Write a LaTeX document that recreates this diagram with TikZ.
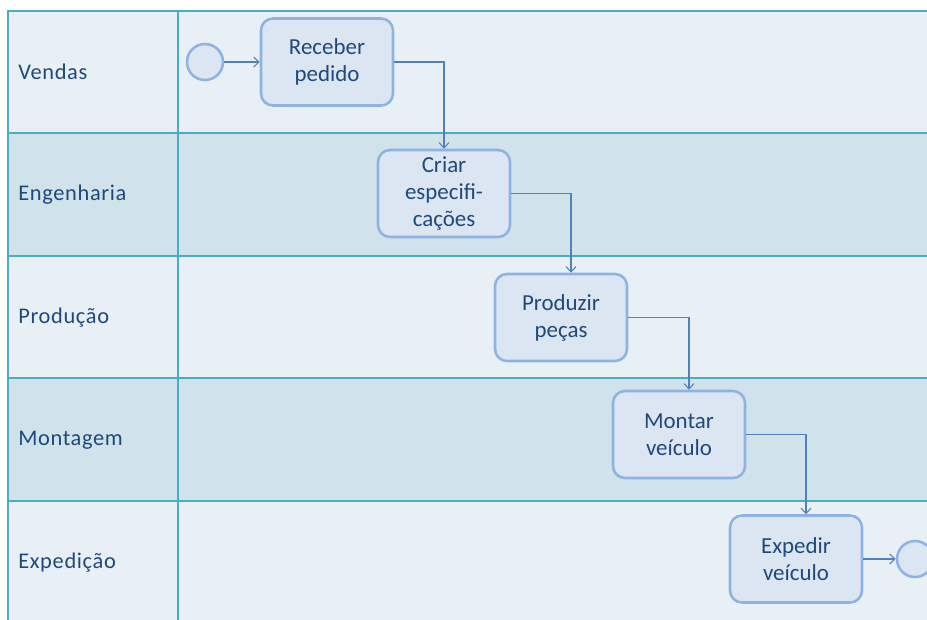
\documentclass[tikz,border=0pt]{standalone}
\usepackage{fontspec}
\setmainfont{Carlito}
\newfontfamily\lanefont[LetterSpace=3]{Carlito}
\usetikzlibrary{arrows.meta}
\definecolor{lanelight}{HTML}{E8F0F5}
\definecolor{lanedark}{HTML}{D1E3EA}
\definecolor{laneline}{HTML}{4BACC6}
\definecolor{boxfill}{HTML}{DCE6F2}
\definecolor{boxline}{HTML}{8DB3E2}
\definecolor{flowline}{HTML}{4F81BD}
\definecolor{txt}{HTML}{1F497D}
\tikzset{
  activity/.style={draw=boxline, fill=boxfill, line width=1.9pt, rounded corners=9pt,
    minimum width=132*0.75pt, minimum height=87*0.75pt, inner sep=0pt,
    align=center, text=txt, font=\fontsize{17.2}{20.3}\selectfont},
  terminal/.style={circle, draw=boxline, fill=boxfill, line width=1.9pt,
    minimum size=36*0.75pt, inner sep=0pt},
  lanelabel/.style={anchor=west, text=txt, inner sep=0pt,
    font=\lanefont\fontsize{16.8}{20}\selectfont},
  flow/.style={draw=flowline, line width=0.8pt,
    -{Straight Barb[length=4pt,width=7.5pt,line width=0.8pt]}},
}
\begin{document}
\begin{tikzpicture}[x=0.75pt,y=-0.75pt]
\useasboundingbox (0,0) rectangle (927,619);
\clip (0,0) rectangle (927,619);
% swimlane backgrounds
\fill[lanelight] (8,11) rectangle (940,133);
\fill[lanedark]  (8,133) rectangle (940,256);
\fill[lanelight] (8,256) rectangle (940,378);
\fill[lanedark]  (8,378) rectangle (940,501);
\fill[lanelight] (8,501) rectangle (940,630);
% lane borders
\begin{scope}[draw=laneline, line width=1.5pt]
\draw (8,630) -- (8,11) -- (940,11);
\draw (8,133) -- (940,133);
\draw (8,256) -- (940,256);
\draw (8,378) -- (940,378);
\draw (8,501) -- (940,501);
\draw (178,11) -- (178,630);
\end{scope}
% lane titles
\node[lanelabel] (lVendas) at (18,72) {Vendas};
\node[lanelabel] (lEng) at (18,195) {Engenharia};
\node[lanelabel] (lProd) at (18,318) {Produção};
\node[lanelabel] (lMont) at (18,440) {Montagem};
\node[lanelabel] (lExp) at (18,563) {Expedição};
% activities
\node[terminal] (start) at (205,62) {};
\node[activity] (receber) at (327,62) {Receber\\pedido};
\node[activity] (criar) at (444,193.5) {Criar\\especifi-\\cações};
\node[activity] (produzir) at (561,317.5) {Produzir\\peças};
\node[activity] (montar) at (679,434.5) {Montar\\veículo};
\node[activity] (expedir) at (796,559) {Expedir\\veículo};
\node[terminal] (fim) at (915,559) {};
% flows
\draw[flow] (start) -- (receber);
\draw[flow] (receber.east) -| (criar.north);
\draw[flow] (criar.east) -| ([xshift=7.5pt]produzir.north);
\draw[flow] (produzir.east) -| ([xshift=7.5pt]montar.north);
\draw[flow] (montar.east) -| ([xshift=7.5pt]expedir.north);
\draw[flow] (expedir) -- (fim);
\end{tikzpicture}
\end{document}
